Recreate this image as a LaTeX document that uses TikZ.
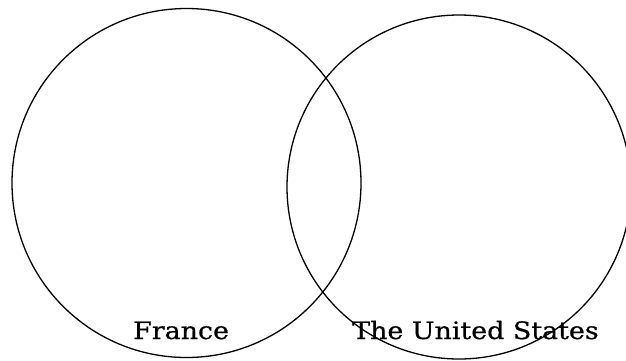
\documentclass[tikz,border=0pt]{standalone}
\usepackage{fontspec}
\setmainfont{DejaVu Serif}[FakeStretch=1.12, FakeBold=0.6]
\usepackage{tikz}

\begin{document}
\begin{tikzpicture}[x=1pt, y=-1pt,
    setcircle/.style={draw=black, line width=1.3pt, circle, inner sep=0pt},
    setlabel/.style={font=\fontsize{24}{28}\selectfont, inner sep=0pt, anchor=base west}]
      \clip (0, 0) rectangle (626, 360);
      \node[setcircle, minimum size=349pt] (france) at (186.5, 183) {};
      \node[setcircle, minimum size=344pt] (usa) at (459, 187) {};
      \node[setlabel] (francelabel) at (133, 339) {France};
      \node[setlabel] (usalabel) at (352, 339) {The United States};
    \end{tikzpicture}
\end{document}
